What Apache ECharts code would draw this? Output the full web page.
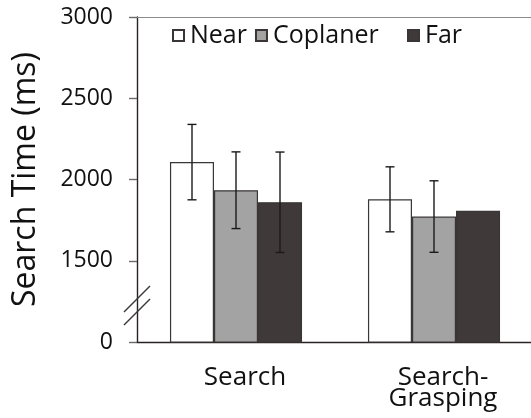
<!DOCTYPE html>
<html>
<head>
<meta charset="utf-8">
<script src="https://cdn.jsdelivr.net/npm/echarts@6/dist/echarts.min.js"></script>
<style>
html,body{margin:0;padding:0;background:#fff;}
#chart{width:531px;height:418px;}
</style>
</head>
<body>
<div id="chart"></div>
<script>
const categories = ['Search', 'Search-\nGrasping'];
const seriesNames = ['Near', 'Coplaner', 'Far'];
const nearValues = [2107, 1878];
const coplanerValues = [1934, 1772];
const farValues = [1860, 1807];
const nearErrors = [232, 200];
const coplanerErrors = [236, 220];
const farErrors = [309, 0];
const yTickValues = [1000, 1500, 2000, 2500, 3000];
const yTickLabels = ['0', '1500', '2000', '2500', '3000'];

const FONT = 'Open Sans';
const colors = ['#ffffff', '#a2a3a2', '#3f3939'];
const barCatGap = 1 / 3;

const chart = echarts.init(document.getElementById('chart'), null, {renderer: 'canvas'});

function barSeries(i, vals) {
  return {
    name: seriesNames[i],
    type: 'bar',
    data: vals,
    barGap: '0%',
    barCategoryGap: '33.3%',
    itemStyle: {color: colors[i], borderColor: '#3a3636', borderWidth: 1.2},
    emphasis: {disabled: true},
    z: 2
  };
}

function errSeries(i, vals, errs) {
  return {
    type: 'custom',
    name: seriesNames[i] + ' err',
    data: vals.map((v, k) => [k, v, errs[k]]),
    encode: {x: 0, y: 1},
    z: 10,
    silent: true,
    renderItem: function (params, api) {
      const ci = api.value(0), v = api.value(1), e = api.value(2);
      if (!e) return null;
      const band = api.size([1, 0])[0];
      const bw = band * (1 - barCatGap) / 3;
      const x = api.coord([ci, v])[0] + (i - 1) * bw;
      const yt = api.coord([ci, v + e])[1];
      const yb = api.coord([ci, v - e])[1];
      const cap = 4.5;
      const st = {stroke: '#1a1a1a', lineWidth: 1.4};
      return {
        type: 'group',
        children: [
          {type: 'line', shape: {x1: x, y1: yt, x2: x, y2: yb}, style: st},
          {type: 'line', shape: {x1: x - cap, y1: yt, x2: x + cap, y2: yt}, style: st},
          {type: 'line', shape: {x1: x - cap, y1: yb, x2: x + cap, y2: yb}, style: st}
        ]
      };
    }
  };
}

const gridLeft = 137;

const legendCommon = {
  itemWidth: 11, itemHeight: 11, itemGap: 8,
  icon: 'rect',
  padding: 0,
  textStyle: {fontFamily: FONT, fontSize: 25, color: '#111', padding: [0, 0, 0, 1]},
  selectedMode: false
};

const option = {
  backgroundColor: '#ffffff',
  animation: false,
  textStyle: {fontFamily: FONT},
  grid: {left: gridLeft, right: -2, top: 17, bottom: 76, containLabel: false, outerBoundsMode: 'none'},
  legend: [
    Object.assign({data: ['Near', 'Coplaner'], left: 172, top: 23}, legendCommon),
    Object.assign({data: ['Far'], left: 407, top: 23}, legendCommon)
  ],
  xAxis: [
    {
      type: 'category',
      data: categories,
      axisLine: {show: true, lineStyle: {color: '#2a2222', width: 1.4}},
      axisTick: {show: false},
      axisLabel: {
        interval: 0,
        fontFamily: FONT, fontSize: 26, color: '#111', margin: 25,
        lineHeight: 21, padding: [0, 0, 0, 18]
      },
      splitLine: {show: false}
    },
    {
      type: 'category',
      data: categories,
      position: 'top',
      axisLine: {show: true, lineStyle: {color: '#8a8a8a', width: 1.2}},
      axisTick: {show: false},
      axisLabel: {show: false},
      splitLine: {show: false}
    }
  ],
  yAxis: {
    type: 'value',
    min: yTickValues[0],
    max: yTickValues[yTickValues.length - 1],
    interval: 500,
    name: 'Search Time (ms)',
    nameLocation: 'middle',
    nameRotate: 90,
    nameGap: 95,
    nameMoveOverlap: false,
    nameTextStyle: {fontFamily: FONT, fontSize: 32, color: '#111'},
    axisLine: {show: true, lineStyle: {color: '#2a2222', width: 1.4}},
    axisTick: {show: true, inside: false, length: 8, lineStyle: {color: '#6a6a6a', width: 1.4}},
    axisLabel: {
      fontFamily: FONT, fontSize: 23, color: '#111', margin: 24,
      formatter: function (v) {
        const k = yTickValues.indexOf(v);
        return k >= 0 ? yTickLabels[k] : '';
      }
    },
    splitLine: {show: false}
  },
  series: [
    barSeries(0, nearValues),
    barSeries(1, coplanerValues),
    barSeries(2, farValues),
    errSeries(0, nearValues, nearErrors),
    errSeries(1, coplanerValues, coplanerErrors),
    errSeries(2, farValues, farErrors)
  ]
};

chart.setOption(option);

// axis break marks (decoration), placed relative to the y-axis scale
const breakValue = 1225;
const yc = chart.convertToPixel({yAxisIndex: 0}, breakValue);
const bs = {stroke: '#3a3a3a', lineWidth: 1.4};
chart.setOption({
  graphic: [
    {type: 'line', shape: {x1: gridLeft - 13, y1: yc + 6.5, x2: gridLeft + 13, y2: yc - 19.5}, style: bs, z: 20},
    {type: 'line', shape: {x1: gridLeft - 13, y1: yc + 19.5, x2: gridLeft + 13, y2: yc - 6.5}, style: bs, z: 20}
  ]
});
</script>
</body>
</html>
